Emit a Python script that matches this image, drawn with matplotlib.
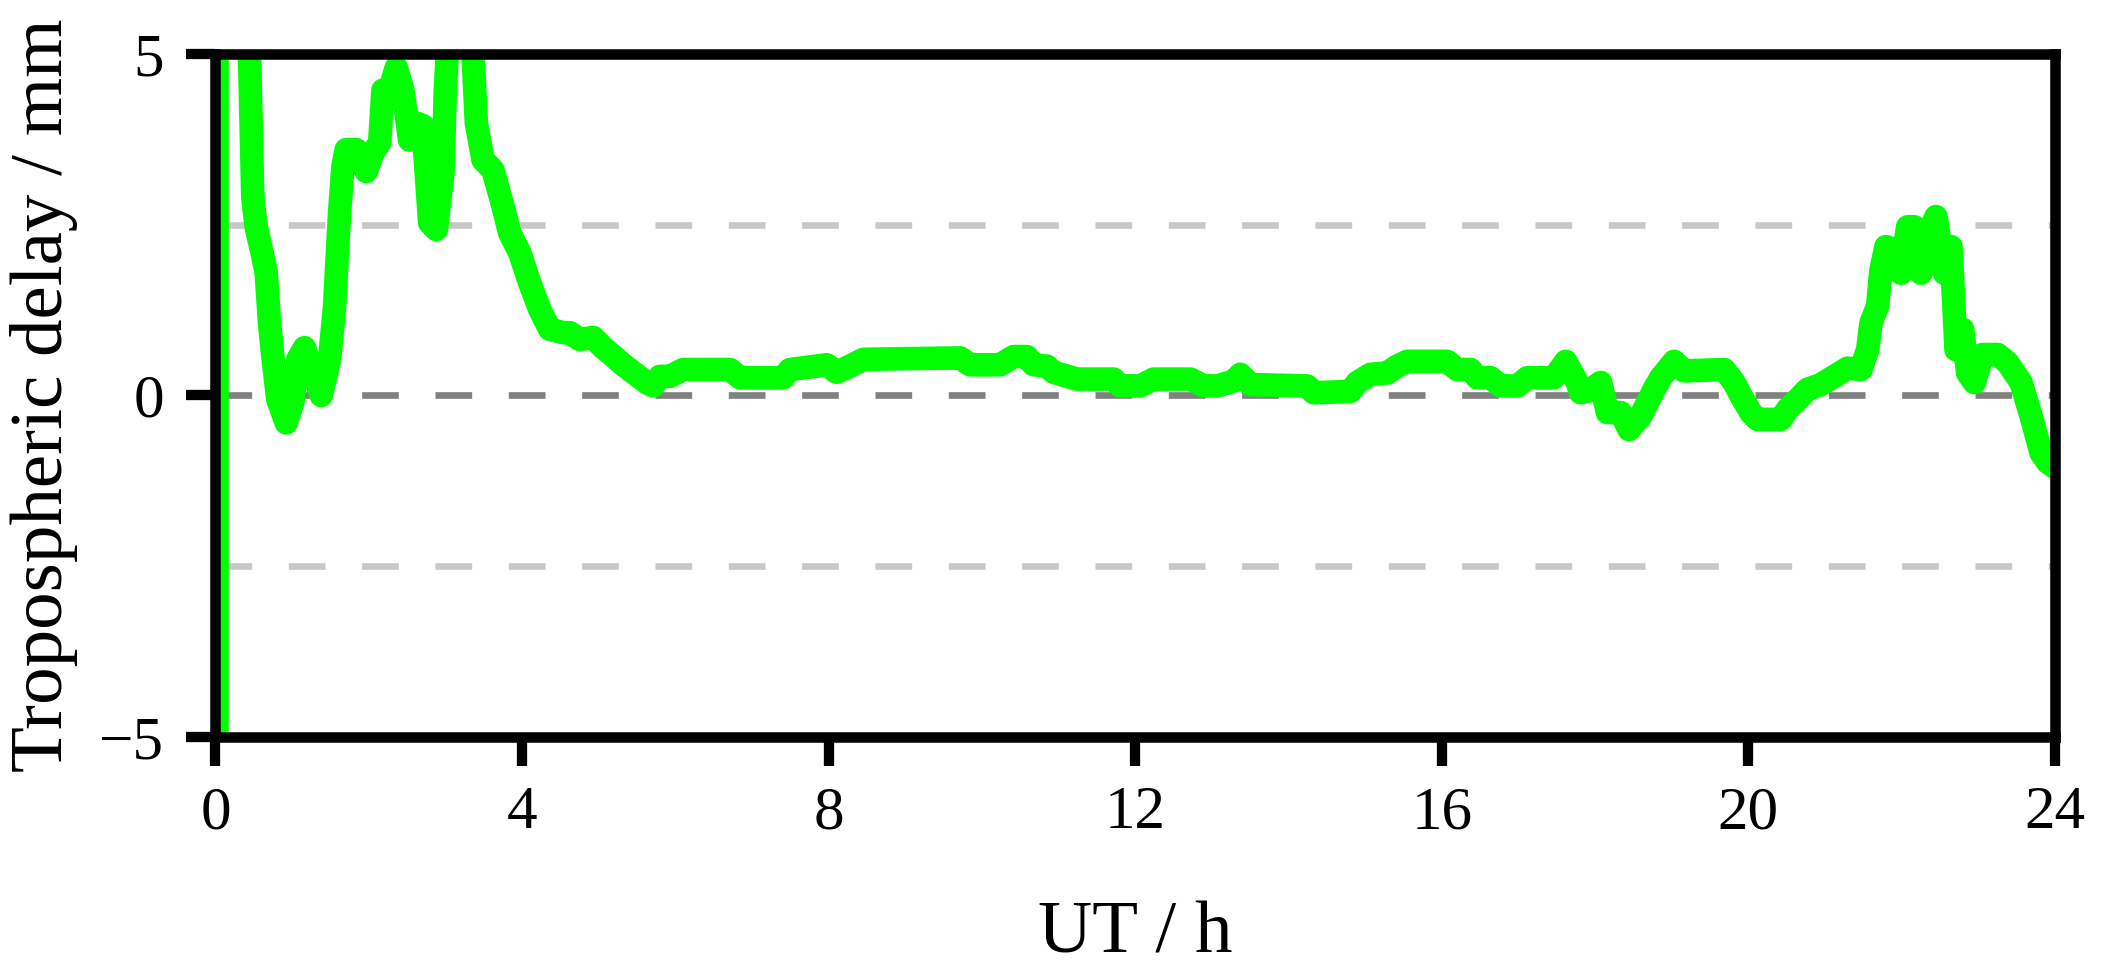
import matplotlib
matplotlib.use("Agg")
import matplotlib.pyplot as plt

plt.rcParams['font.family'] = ['Liberation Serif', 'DejaVu Serif']

# UT (hours) and tropospheric delay (mm)
ut = [0.02, 0.02, 0.40, 0.444, 0.487, 0.531, 0.618, 0.662, 0.705, 0.749,
      0.814, 0.923, 1.010, 1.075, 1.162, 1.227, 1.380, 1.489, 1.554, 1.619,
      1.663, 1.706, 1.837, 1.967, 2.054, 2.142, 2.185, 2.272, 2.359, 2.446,
      2.533, 2.620, 2.707, 2.795, 2.882, 2.968, 3.000, 3.050, 3.150, 3.300,
      3.360, 3.404, 3.491, 3.621, 3.752, 3.839, 3.970, 4.100, 4.231, 4.361,
      4.535, 4.623, 4.753, 4.927, 5.058, 5.188, 5.319, 5.449, 5.624, 5.711,
      5.798, 5.928, 6.102, 6.712, 6.843, 7.408, 7.495, 7.975, 8.105, 8.279,
      8.453, 9.715, 9.846, 10.238, 10.412, 10.586, 10.673, 10.847, 10.934, 11.239,
      11.717, 11.805, 12.066, 12.240, 12.719, 12.893, 13.067, 13.284, 13.372, 13.502,
      14.243, 14.329, 14.808, 14.895, 15.069, 15.287, 15.417, 15.548, 16.070, 16.201,
      16.375, 16.462, 16.636, 16.767, 16.985, 17.115, 17.463, 17.616, 17.768, 17.811,
      17.899, 18.073, 18.160, 18.334, 18.443, 18.595, 18.769, 18.856, 19.030, 19.161,
      19.683, 19.813, 19.901, 20.031, 20.118, 20.423, 20.510, 20.641, 20.771, 20.945,
      21.119, 21.294, 21.468, 21.555, 21.598, 21.685, 21.729, 21.794, 21.903, 21.990,
      22.077, 22.164, 22.251, 22.338, 22.447, 22.556, 22.643, 22.708, 22.795, 22.860,
      22.947, 23.056, 23.252, 23.382, 23.557, 23.687, 23.818, 23.905, 24.0]
delay = [-40.0, 40.0, 8.0, 5.0, 2.91, 2.47, 2.04, 1.80, 1.07, 0.57,
         -0.06, -0.40, -0.10, 0.53, 0.70, 0.48, 0.0, 0.53, 1.30, 2.67,
         3.35, 3.60, 3.60, 3.28, 3.55, 3.70, 4.47, 4.47, 4.80, 4.47,
         3.74, 3.99, 3.95, 2.53, 2.43, 3.26, 4.50, 5.5, 8.0, 7.0,
         5.0, 3.99, 3.45, 3.30, 2.77, 2.38, 2.09, 1.65, 1.26, 0.97,
         0.92, 0.92, 0.82, 0.85, 0.70, 0.58, 0.45, 0.34, 0.19, 0.14,
         0.28, 0.28, 0.38, 0.38, 0.26, 0.26, 0.38, 0.45, 0.34, 0.43,
         0.53, 0.55, 0.45, 0.45, 0.57, 0.57, 0.45, 0.43, 0.34, 0.24,
         0.24, 0.14, 0.14, 0.24, 0.24, 0.14, 0.14, 0.21, 0.31, 0.16,
         0.14, 0.04, 0.06, 0.19, 0.31, 0.33, 0.43, 0.50, 0.50, 0.38,
         0.38, 0.26, 0.26, 0.14, 0.14, 0.26, 0.26, 0.50, 0.19, 0.04,
         0.06, 0.19, -0.25, -0.25, -0.50, -0.30, 0.09, 0.26, 0.50, 0.36,
         0.38, 0.19, 0.0, -0.25, -0.35, -0.35, -0.20, -0.06, 0.09, 0.16,
         0.28, 0.40, 0.38, 0.67, 1.06, 1.31, 1.84, 2.18, 2.13, 1.79,
         2.47, 2.47, 1.79, 2.33, 2.62, 1.79, 2.18, 0.67, 0.97, 0.33,
         0.19, 0.60, 0.60, 0.48, 0.19, -0.30, -0.84, -0.98, -1.05]

x_ticks = [0, 4, 8, 12, 16, 20, 24]
y_ticks = [-5, 0, 5]
ref_levels = [-2.5, 0.0, 2.5]
ref_colors = ['#c8c8c8', '#808080', '#c8c8c8']

fig = plt.figure(figsize=(21.06, 9.69), dpi=100)
ax = fig.add_axes([0.1023, 0.2394, 0.9758 - 0.1023, 0.9443 - 0.2394])

for lvl, col in zip(ref_levels, ref_colors):
    ax.axhline(lvl, color=col, lw=4.8, linestyle=(0, (5.5, 5.5)),
               dash_capstyle='butt', zorder=1)

ax.plot(ut, delay, color='#00ff00', lw=17, solid_capstyle='round',
        solid_joinstyle='round', zorder=2)

ax.set_xlim(0, 24)
ax.set_ylim(-5, 5)
ax.set_xticks(x_ticks)
ax.set_yticks(y_ticks)

for sp in ax.spines.values():
    sp.set_linewidth(7.6)
    sp.set_color('black')
    sp.set_zorder(5)

ax.tick_params(axis='both', direction='out', length=21, width=7.4,
               labelsize=44, color='black')
ax.tick_params(axis='x', pad=14)
ax.tick_params(axis='y', pad=16)

ax.set_xlabel('UT / h', fontsize=54, va='baseline')
ax.xaxis.set_label_coords(0.5, -0.3148)
ax.set_ylabel('Tropospheric delay / mm', fontsize=54, va='center')
ax.yaxis.set_label_coords(-0.0932, 0.5)

fig.savefig('out.png', dpi=100)
